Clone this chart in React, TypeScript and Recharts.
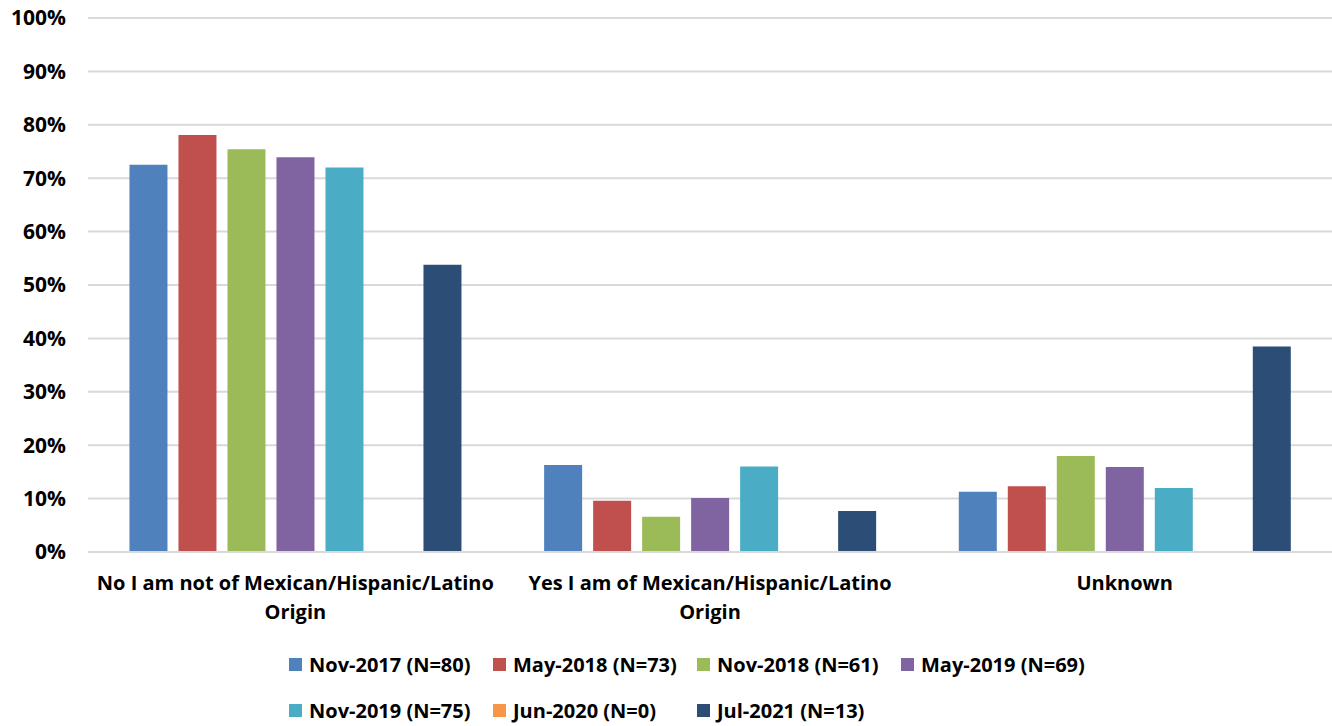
import { Bar, BarChart, CartesianGrid, XAxis, YAxis } from 'recharts';

// tick labels, one entry per line as in the reference
const categoryLines = [
  ['No I am not of Mexican/Hispanic/Latino', 'Origin'],
  ['Yes I am of Mexican/Hispanic/Latino', 'Origin'],
  ['Unknown'],
];
const categories = categoryLines.map((l) => l.join(' '));

const nov2017 = [72.5, 16.3, 11.3];
const may2018 = [78.1, 9.6, 12.3];
const nov2018 = [75.4, 6.6, 18.0];
const may2019 = [73.9, 10.1, 15.9];
const nov2019 = [72.0, 16.0, 12.0];
const jun2020 = [0, 0, 0];
const jul2021 = [53.8, 7.7, 38.5];

const seriesNames = [
  'Nov-2017 (N=80)',
  'May-2018 (N=73)',
  'Nov-2018 (N=61)',
  'May-2019 (N=69)',
  'Nov-2019 (N=75)',
  'Jun-2020 (N=0)',
  'Jul-2021 (N=13)',
];

const yTicks = [0, 10, 20, 30, 40, 50, 60, 70, 80, 90, 100];

const COLORS = ['#4F81BD', '#C0504D', '#9BBB59', '#8064A2', '#4BACC6', '#F79646', '#2C4D75'];

const seriesValues = [nov2017, may2018, nov2018, may2019, nov2019, jun2020, jul2021];

const data = categories.map((name, i) => {
  const row: Record<string, string | number> = { name };
  seriesNames.forEach((s, j) => {
    row[s] = seriesValues[j][i];
  });
  return row;
});

const FONT = { fontFamily: '"Open Sans", sans-serif', fontWeight: 700, fontSize: 20 };

const CategoryTick = ({ x, y, payload }: any) => {
  const lines = categoryLines[categories.indexOf(payload.value)] || [payload.value];
  return (
    <text x={x} y={y + 30} textAnchor="middle" fill="#000" style={FONT}>
      {lines.map((line, i) => (
        <tspan key={i} x={x} dy={i === 0 ? 0 : 29}>
          {line}
        </tspan>
      ))}
    </text>
  );
};

export default function App() {
  return (
    <div style={{ position: 'relative', width: 1332, height: 726, background: '#fff' }}>
      <style>{`body{margin:0}`}</style>
      <BarChart
        width={1332}
        height={640}
        data={data}
        margin={{ top: 18, right: 0, left: 0, bottom: 0 }}
        barCategoryGap="10%"
        barGap={11}
      >
        <CartesianGrid vertical={false} stroke="#d9d9d9" strokeWidth={2} />
        <XAxis
          dataKey="name"
          height={88}
          tickLine={false}
          axisLine={{ stroke: '#d9d9d9', strokeWidth: 2 }}
          tick={<CategoryTick />}
          interval={0}
        />
        <YAxis
          width={88}
          domain={[0, 100]}
          ticks={yTicks}
          axisLine={false}
          tickLine={false}
          tickSize={0}
          tickMargin={22}
          tickFormatter={(v: number) => `${v}%`}
          tick={{ fill: '#000', ...FONT, fontSize: 21 }}
        />
        {seriesNames.map((s, i) => (
          <Bar key={s} dataKey={s} fill={COLORS[i]} isAnimationActive={false} />
        ))}
      </BarChart>
      <div
        style={{
          position: 'absolute',
          left: 289,
          top: 641,
          width: 820,
          display: 'flex',
          flexWrap: 'wrap',
          ...FONT,
        }}
      >
        {seriesNames.map((s, i) => (
          <div key={s} style={{ width: 204, height: 46, display: 'flex', alignItems: 'center' }}>
            <span style={{ width: 13, height: 13, background: COLORS[i], marginRight: 7, flex: 'none' }} />
            <span style={{ whiteSpace: 'nowrap' }}>{s}</span>
          </div>
        ))}
      </div>
    </div>
  );
}
